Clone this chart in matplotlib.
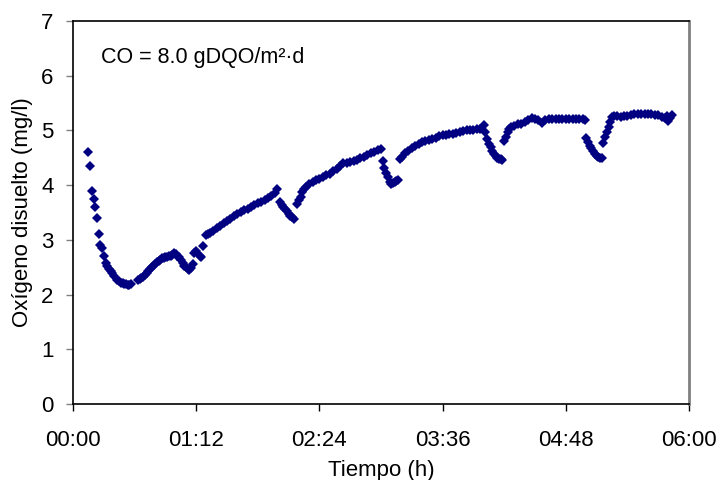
import matplotlib
matplotlib.use("Agg")
import matplotlib.pyplot as plt
from matplotlib.ticker import FixedLocator, FuncFormatter

plt.rcParams['font.family'] = ['Liberation Sans', 'DejaVu Sans']

# Elapsed time (minutes) and dissolved oxygen (mg/l)
minutes = [
    9, 10, 11, 12, 13, 14, 15, 16, 17, 18, 19, 20, 21, 22, 23, 24, 26, 27, 28, 29,
    30, 31, 32, 33, 34,
    38, 39, 40, 41, 42, 43, 44, 45, 46, 47, 48, 49, 50, 51, 52, 53, 54, 55, 56, 57,
    58, 59, 60, 61, 62, 63, 64, 65, 66, 67, 68, 69, 70, 71, 72, 74, 75, 76, 78, 79,
    80, 82, 84, 86, 88, 90, 92, 94, 96, 98, 100, 102, 104, 106, 108, 110, 112, 114,
    116, 118, 119,
    121, 122, 123, 124, 125, 126, 127, 128, 129,
    131, 132, 133, 134, 135, 136, 138, 140, 142, 144, 146, 148, 150, 152, 154, 156,
    158, 160, 162, 164, 166, 168, 170, 172, 174, 176, 178, 180,
    181, 182, 183, 184, 185, 186, 187, 188, 189, 190,
    191, 192, 194, 196, 198, 200, 202, 204, 206, 208, 210, 212, 214, 216, 218, 220,
    222, 224, 226, 228, 230, 232, 234, 236, 238, 240,
    241, 242, 243, 244, 245, 246, 247, 248, 249, 250, 251,
    252, 253, 254, 255, 256, 258, 260, 262, 264, 266, 268, 270, 272, 274, 276, 278,
    280, 282, 284, 286, 288, 290, 292, 294, 296, 298, 299,
    300, 301, 302, 303, 304, 305, 306, 307, 308, 309,
    310, 311, 312, 313, 314, 315, 316, 318, 320, 322, 324, 326, 328, 330, 332, 334,
    336, 338, 340, 342, 344, 346, 347, 348, 349, 350,
]
oxygen = [
    4.60, 4.35, 3.90, 3.75, 3.60, 3.40, 3.10, 2.90, 2.85, 2.70, 2.58, 2.52, 2.47, 2.43, 2.39, 2.34, 2.27, 2.24, 2.22, 2.21,
    2.20, 2.19, 2.18, 2.18, 2.19,
    2.26, 2.28, 2.30, 2.33, 2.36, 2.40, 2.43, 2.46, 2.50, 2.53, 2.56, 2.59, 2.62, 2.64, 2.66, 2.67, 2.68, 2.69, 2.70, 2.70,
    2.72, 2.76, 2.75, 2.71, 2.68, 2.63, 2.58, 2.52, 2.50, 2.47, 2.44, 2.48, 2.56, 2.76, 2.79, 2.70, 2.68, 2.88, 3.08, 3.10,
    3.12, 3.17, 3.22, 3.26, 3.30, 3.35, 3.39, 3.44, 3.48, 3.51, 3.54, 3.57, 3.60, 3.63, 3.67, 3.70, 3.73, 3.77,
    3.80, 3.86, 3.93,
    3.70, 3.64, 3.60, 3.56, 3.52, 3.48, 3.44, 3.41, 3.38,
    3.66, 3.72, 3.79, 3.88, 3.93, 3.97, 4.02, 4.06, 4.10, 4.12, 4.15, 4.19, 4.21, 4.25, 4.29, 4.35,
    4.40, 4.41, 4.42, 4.44, 4.46, 4.49, 4.52, 4.55, 4.58, 4.61, 4.64, 4.66,
    4.45, 4.32, 4.22, 4.14, 4.06, 4.03, 4.04, 4.06, 4.08, 4.10,
    4.48, 4.52, 4.58, 4.63, 4.67, 4.71, 4.75, 4.78, 4.81, 4.83, 4.85, 4.87, 4.90, 4.91, 4.92, 4.93,
    4.94, 4.96, 4.97, 4.99, 5.00, 5.01, 5.01, 5.02, 5.03, 5.10,
    4.98, 4.84, 4.76, 4.69, 4.63, 4.57, 4.53, 4.50, 4.48, 4.47, 4.46,
    4.80, 4.88, 4.97, 5.02, 5.06, 5.09, 5.11, 5.12, 5.15, 5.19, 5.22, 5.21, 5.19, 5.14, 5.19, 5.20,
    5.20, 5.20, 5.20, 5.20, 5.20, 5.20, 5.20, 5.20, 5.20, 5.20, 5.19,
    4.86, 4.78, 4.72, 4.67, 4.62, 4.57, 4.54, 4.51, 4.49, 4.49,
    4.77, 4.88, 4.97, 5.07, 5.15, 5.24, 5.26, 5.26, 5.25, 5.26, 5.27, 5.29, 5.30, 5.30, 5.30, 5.30,
    5.30, 5.30, 5.29, 5.28, 5.24, 5.22, 5.27, 5.17, 5.22, 5.28,
]

x_ticks = [0, 72, 144, 216, 288, 360]
y_ticks = [0, 1, 2, 3, 4, 5, 6, 7]

fig = plt.figure(figsize=(7.2, 4.8), dpi=100)
ax = fig.add_axes([73 / 720, 1 - 404 / 480, (689 - 73) / 720, (404 - 21) / 480])

ax.plot(minutes, oxygen, linestyle='none', marker='D', markersize=5,
        color='#000080', markeredgewidth=0)

ax.set_xlim(0, 360)
ax.set_ylim(0, 7)
ax.xaxis.set_major_locator(FixedLocator(x_ticks))
ax.xaxis.set_major_formatter(FuncFormatter(lambda v, p: f"{int(v) // 60:02d}:{int(v) % 60:02d}"))
ax.yaxis.set_major_locator(FixedLocator(y_ticks))

ax.tick_params(axis='x', direction='out', length=5, width=1, color='black',
               labelsize=16, pad=14)
ax.tick_params(axis='y', direction='out', length=5, width=1, color='#808080',
               labelsize=16, pad=9)

for side in ('left', 'bottom', 'top'):
    ax.spines[side].set_color('black')
    ax.spines[side].set_linewidth(1.2)
ax.spines['right'].set_color('#808080')
ax.spines['right'].set_linewidth(2)

ax.set_xlabel('Tiempo (h)', fontsize=16, labelpad=6)
ax.set_ylabel('Oxígeno disuelto (mg/l)', fontsize=16, labelpad=6)

ax.text(16.5, 6.34, 'CO = 8.0 gDQO/m²·d', fontsize=15.5, va='center', ha='left')

fig.savefig('out.png', dpi=100)
